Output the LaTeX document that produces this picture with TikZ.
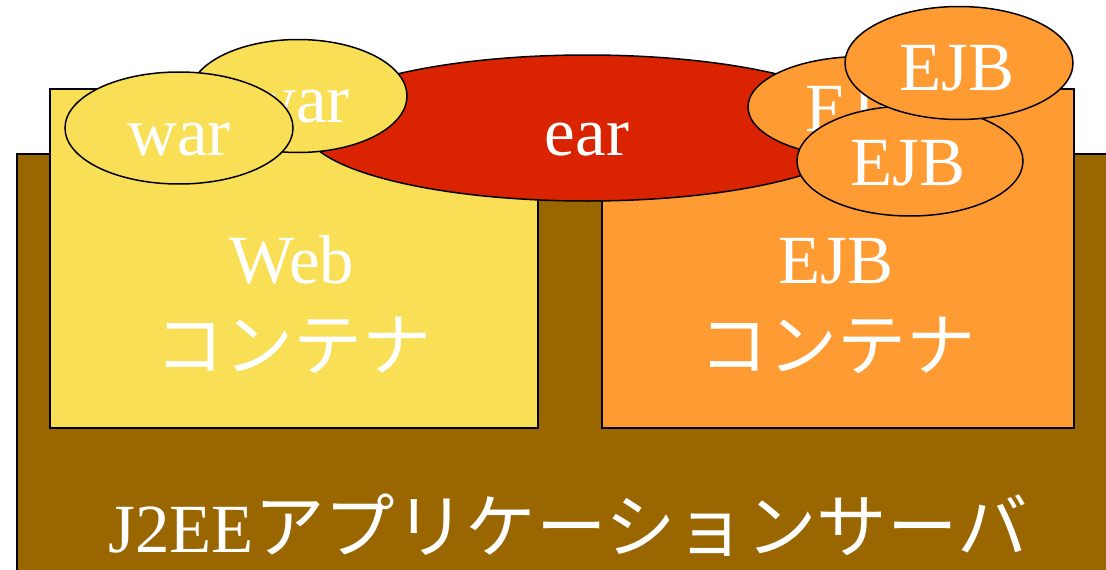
\documentclass[tikz,border=0pt]{standalone}
\usepackage{fontspec}
\setmainfont{Liberation Serif}
\newfontfamily\jpfont{Noto Sans CJK JP}
\usetikzlibrary{shapes.geometric}
\definecolor{serverbrown}{HTML}{996600}
\definecolor{webyellow}{HTML}{F9DF55}
\definecolor{ejborange}{HTML}{FF9B33}
\definecolor{earred}{HTML}{DA2300}
\tikzset{
  outline/.style={draw=black, line width=1.5pt},
  container/.style={outline, rectangle, inner sep=0pt, anchor=north west},
  archive/.style={outline, ellipse, inner sep=0pt},
  label/.style={text=white, inner sep=0pt, anchor=base, font=\fontsize{69}{80}\selectfont},
}
\begin{document}
\begin{tikzpicture}[x=1pt, y=-1pt]
  \useasboundingbox (0,0) rectangle (1106,570);
  \clip (0,0) rectangle (1106,570);

  % application server
  \node[container, fill=serverbrown, minimum width=1110pt, minimum height=430pt] (server) at (16,153) {};
  \node[label] (servertext) at (568,552) {J2EE{\jpfont\fontsize{70.5}{80}\selectfont アプリケーションサーバ}};

  % containers
  \node[container, fill=webyellow, minimum width=488pt, minimum height=339pt] (web) at (49,88) {};
  \node[container, fill=ejborange, minimum width=472pt, minimum height=339pt] (ejbc) at (601,88) {};
  \node[label] (webtext) at (292,283) {Web};
  \node[label] (webjp) at (293,370) {\jpfont コンテナ};
  \node[label] (ejbtext) at (836,283) {EJB};
  \node[label] (ejbjp) at (837,370) {\jpfont コンテナ};

  % enterprise archive
  \node[archive, fill=earred, minimum width=564pt, minimum height=146pt] (ear) at (587,128) {};
  \node[label] (eartext) at (587,155) {ear};

  % web archives
  \node[archive, fill=webyellow, minimum width=218pt, minimum height=113pt] (warB) at (298,96) {};
  \node[label] (warBtext) at (298,122) {war};
  \node[archive, fill=webyellow, minimum width=228pt, minimum height=112pt] (warF) at (179,128) {};
  \node[label] (warFtext) at (179,155) {war};

  % EJB modules
  \node[archive, fill=ejborange, minimum width=228pt, minimum height=101pt] (ejbB) at (862,107) {};
  \node[label] (ejbBtext) at (863,131) {EJB};
  \node[archive, fill=ejborange, minimum width=226pt, minimum height=110pt] (ejbM) at (910,161) {};
  \node[label] (ejbMtext) at (908,185) {EJB};
  \node[archive, fill=ejborange, minimum width=228pt, minimum height=113pt] (ejbT) at (959,63) {};
  \node[label] (ejbTtext) at (957,90) {EJB};
\end{tikzpicture}
\end{document}
